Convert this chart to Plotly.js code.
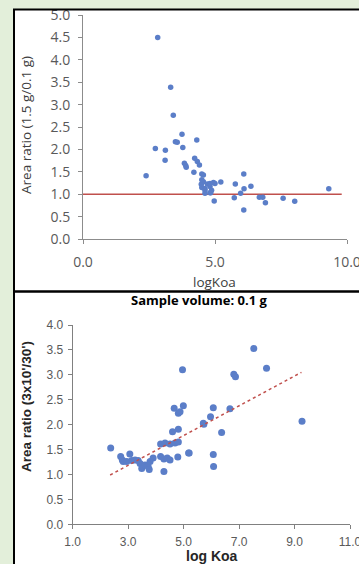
<!DOCTYPE html>
<html>
<head>
<meta charset="utf-8">
<script src="https://cdn.plot.ly/plotly-3.0.1.min.js"></script>
<style>
html,body{margin:0;padding:0;background:#e3efda;}
#chart{width:359px;height:564px;}
</style>
</head>
<body>
<div id="chart"></div>
<script>
// Top panel: Area ratio (1.5 g / 0.1 g) vs logKoa
const topLogKoa = [2.83,3.32,3.42,3.75,3.50,3.57,4.31,2.74,3.12,3.78,3.11,3.84,3.89,3.91,4.23,4.33,4.41,4.20,4.50,2.39,4.56,4.71,4.50,4.62,4.81,5.00,4.87,4.48,4.56,4.50,4.81,4.94,4.62,4.81,4.62,4.84,5.22,5.77,4.97,5.73,6.09,6.36,6.10,5.97,6.68,6.81,6.91,6.09,7.58,8.02,9.31];
const topRatio  = [4.50,3.39,2.76,2.34,2.17,2.16,2.21,2.02,1.98,2.04,1.76,1.69,1.64,1.60,1.80,1.73,1.65,1.49,1.45,1.41,1.28,1.23,1.15,1.13,1.17,1.24,1.09,1.22,1.43,1.32,1.24,1.26,1.09,1.03,1.02,1.03,1.27,1.23,0.85,0.92,1.45,1.18,1.12,1.02,0.93,0.93,0.81,0.65,0.91,0.84,1.12];
const refLineX = [0, 9.8];
const refLineY = [1.0, 1.0];

// Bottom panel: Sample volume 0.1 g, Area ratio (3x10'/30') vs log Koa
const botLogKoa = [2.37,2.73,2.79,2.82,3.06,2.95,3.13,3.25,3.36,3.43,3.49,3.61,3.72,3.79,3.90,3.76,4.17,4.29,4.41,4.51,4.29,4.79,5.18,4.17,4.33,4.51,4.69,4.81,4.60,4.81,4.66,4.81,4.99,7.53,7.99,6.81,6.87,4.96,4.87,6.07,5.97,6.67,5.71,9.27,5.73,6.37,5.20,6.07,6.08];
const botRatio  = [1.53,1.36,1.29,1.26,1.41,1.26,1.28,1.29,1.28,1.22,1.12,1.19,1.16,1.26,1.33,1.10,1.36,1.31,1.33,1.29,1.06,1.35,1.43,1.61,1.63,1.61,1.63,1.65,1.86,1.91,2.33,2.23,2.38,3.53,3.13,3.01,2.96,3.10,2.26,2.34,2.16,2.32,2.03,2.07,2.01,1.84,1.43,1.40,1.16];
const trendX = [2.35, 9.25];
const trendY = [0.99, 3.05];

const topTicksX = [0, 5, 10];
const topTickTextX = ['0.0','5.0','10.0'];
const botTicksX = [1, 3, 5, 7, 9, 11];
const botTickTextX = ['1.0','3.0','5.0','7.0','9.0','11.0'];

const W = 359, H = 564;
const px = v => v / W;
const py = v => 1 - v / H;

const dotColor = '#5b7ec8';
const redColor = '#c0504d';
const calFont = 'Open Sans, Lato, sans-serif';
const arialFont = 'Liberation Sans, Arial, sans-serif';

const traces = [
  {x: refLineX, y: refLineY, xaxis:'x', yaxis:'y', mode:'lines', line:{color:redColor, width:1.6}, hoverinfo:'skip'},
  {x: topLogKoa, y: topRatio, xaxis:'x', yaxis:'y', mode:'markers', marker:{color:dotColor, size:5.5}},
  {x: botLogKoa, y: botRatio, xaxis:'x2', yaxis:'y2', mode:'markers', marker:{color:dotColor, size:7}},
  {x: trendX, y: trendY, xaxis:'x2', yaxis:'y2', mode:'lines', line:{color:redColor, width:1.5, dash:'dot'}, hoverinfo:'skip'}
];

const layout = {
  width: W, height: H,
  margin: {l:0, r:0, t:0, b:0},
  paper_bgcolor: '#e3efda',
  plot_bgcolor: 'rgba(0,0,0,0)',
  showlegend: false,
  xaxis: {
    domain: [px(83), px(347)], range: [0, 10], anchor: 'y',
    tickvals: topTicksX, ticktext: topTickTextX, ticklabeloverflow: 'allow',
    showgrid: false, zeroline: false, showline: true, linecolor: '#8c8c8c', linewidth: 1,
    ticks: 'outside', ticklen: 4, tickcolor: '#8c8c8c',
    tickfont: {family: calFont, size: 14, color: '#595959'}, ticklabelstandoff: 6
  },
  yaxis: {
    domain: [py(239), py(15)], range: [0, 5], anchor: 'x',
    dtick: 0.5, tickformat: '.1f', ticklabeloverflow: 'allow',
    showgrid: false, zeroline: false, showline: true, linecolor: '#8c8c8c', linewidth: 1,
    ticks: 'outside', ticklen: 4, tickcolor: '#8c8c8c',
    tickfont: {family: calFont, size: 14, color: '#595959'}, ticklabelstandoff: 5
  },
  xaxis2: {
    domain: [px(72.7), px(350)], range: [1, 11], anchor: 'y2',
    tickvals: botTicksX, ticktext: botTickTextX, ticklabeloverflow: 'allow',
    showgrid: false, zeroline: false, showline: true, linecolor: '#808080', linewidth: 1,
    ticks: 'outside', ticklen: 4, tickcolor: '#808080',
    tickfont: {family: arialFont, size: 12, color: '#595959'}, ticklabelstandoff: 2
  },
  yaxis2: {
    domain: [py(524.3), py(325)], range: [0, 4], anchor: 'x2',
    dtick: 0.5, tickformat: '.1f', ticklabeloverflow: 'allow',
    showgrid: false, zeroline: false, showline: true, linecolor: '#808080', linewidth: 1,
    ticks: 'outside', ticklen: 4, tickcolor: '#808080',
    tickfont: {family: arialFont, size: 12, color: '#595959'}, ticklabelstandoff: 2
  },
  shapes: [
    {type:'rect', xref:'paper', yref:'paper', x0:px(14), x1:1, y0:0, y1:py(10), fillcolor:'#ffffff', line:{width:0}, layer:'below'},
    {type:'line', xref:'paper', yref:'paper', x0:px(14), x1:px(14), y0:0, y1:py(9), line:{color:'#000000', width:2}},
    {type:'line', xref:'paper', yref:'paper', x0:px(13), x1:1, y0:py(9.5), y1:py(9.5), line:{color:'#000000', width:2}},
    {type:'line', xref:'paper', yref:'paper', x0:px(14), x1:1, y0:py(291.5), y1:py(291.5), line:{color:'#000000', width:2.5}}
  ],
  annotations: [
    {text:'Area ratio (1.5 g/0.1 g)', xref:'paper', yref:'paper', x:px(26), y:py(125), textangle:-90, showarrow:false, xanchor:'center', yanchor:'middle', font:{family:calFont, size:13.5, color:'#404040'}},
    {text:'logKoa', xref:'paper', yref:'paper', x:px(215), y:py(282), showarrow:false, xanchor:'center', yanchor:'middle', font:{family:calFont, size:13.5, color:'#404040'}},
    {text:'<b>Sample volume: 0.1 g</b>', xref:'paper', yref:'paper', x:px(199), y:py(300), showarrow:false, xanchor:'center', yanchor:'middle', font:{family:calFont, size:13, color:'#000000'}},
    {text:'<b>Area ratio (3x10\'/30\')</b>', xref:'paper', yref:'paper', x:px(26), y:py(407), textangle:-90, showarrow:false, xanchor:'center', yanchor:'middle', font:{family:arialFont, size:13.5, color:'#262626'}},
    {text:'<b>log Koa</b>', xref:'paper', yref:'paper', x:px(211.5), y:py(556), showarrow:false, xanchor:'center', yanchor:'middle', font:{family:arialFont, size:14, color:'#262626'}}
  ]
};

Plotly.newPlot('chart', traces, layout, {staticPlot:true, displayModeBar:false});
</script>
</body>
</html>
